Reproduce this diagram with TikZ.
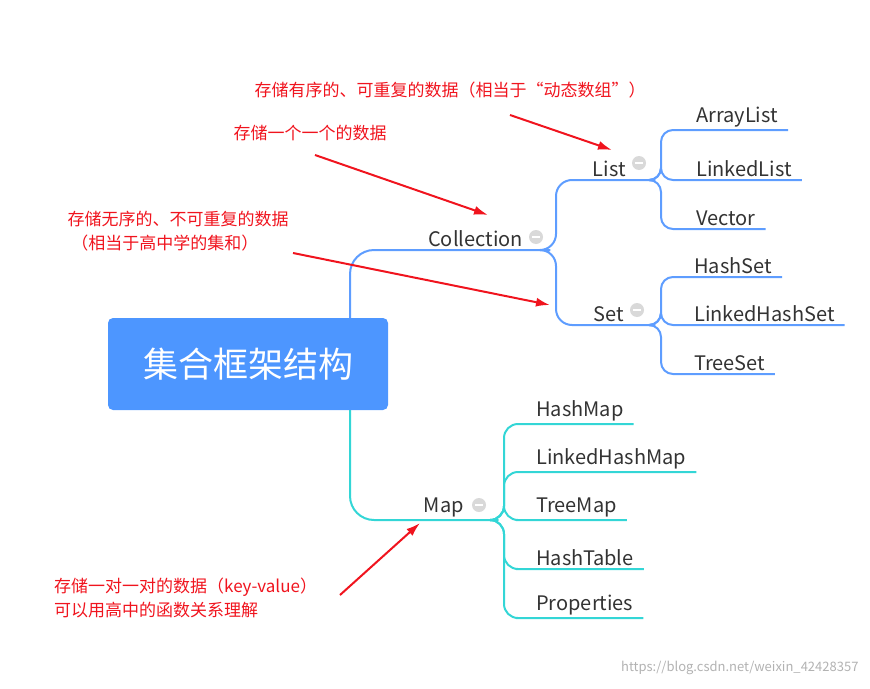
\documentclass[tikz,border=0pt]{standalone}
\usepackage{fontspec}
\setmainfont{Noto Sans CJK SC}
\usetikzlibrary{positioning, calc, arrows.meta}
\definecolor{rootblue}{HTML}{4D96FF}
\definecolor{lineblue}{HTML}{5E9DFF}
\definecolor{lineteal}{HTML}{33D6D6}
\definecolor{notered}{HTML}{F0141E}
\definecolor{txtgray}{HTML}{333333}
\tikzset{
  leaf/.style={anchor=south west, inner xsep=6pt, inner ysep=3pt, font=\fontsize{20}{22}\selectfont, text=txtgray},
  mid/.style={anchor=south east, inner xsep=2pt, inner ysep=3pt, font=\fontsize{20}{22}\selectfont, text=txtgray},
  note/.style={text=notered, font=\fontsize{17}{24}\selectfont, inner sep=1pt},
  arr/.style={-{Latex[length=14pt,width=9pt]}, notered, line width=2pt},
  fold/.style={circle, fill=gray!30, minimum size=14pt, inner sep=0pt, path picture={\draw[white, line width=1.8pt] ([xshift=-4pt]path picture bounding box.center) -- ([xshift=4pt]path picture bounding box.center);}}
}
\begin{document}
\begin{tikzpicture}[x=1pt, y=-1pt]
\useasboundingbox (0,0) rectangle (870,688);
\node (root) [fill=rootblue, rounded corners=5pt, minimum width=280pt, minimum height=92pt, text=white, font=\fontsize{35}{38}\selectfont] at (248,364) {集合框架结构};
% collection side
\coordinate (cEnd) at (550,250);
\coordinate (lHub) at (655,180);
\coordinate (sHub) at (655,325);
\node (coll) [mid] at (525,250) {Collection};
\node (collf) [fold] at (536,237) {};
\node (list) [mid] at (628,180) {List};
\node (listf) [fold] at (639,163) {};
\node (set) [mid] at (626,325) {Set};
\node (setf) [fold] at (637,310) {};
\begin{scope}[lineblue, line width=2pt, rounded corners=24]
  \draw (350,318) |- (cEnd);
\end{scope}
\begin{scope}[lineblue, line width=2pt, rounded corners=16]
  \draw (cEnd) -- ++(6,0) |- (lHub);
  \draw (cEnd) -- ++(6,0) |- (sHub);
\end{scope}
\node (al) [leaf] at (690,130) {ArrayList};
\node (ll) [leaf] at (690,180) {LinkedList};
\node (ve) [leaf] at (690,229) {Vector};
\node (hs) [leaf] at (688,277) {HashSet};
\node (lhs) [leaf] at (688,325) {LinkedHashSet};
\node (ts) [leaf] at (688,374) {TreeSet};
\begin{scope}[lineblue, line width=2pt, rounded corners=12]
  \foreach \n in {al, ll, ve} \draw (lHub) -- ++(6,0) |- (\n.south west) -- ([xshift=4pt]\n.south east);
  \foreach \n in {hs, lhs, ts} \draw (sHub) -- ++(6,0) |- (\n.south west) -- ([xshift=4pt]\n.south east);
\end{scope}
% map side
\coordinate (mHub) at (498,520);
\node (map) [mid] at (466,520) {Map};
\node (mapf) [fold] at (479,505) {};
\node (hm) [leaf] at (530,424) {HashMap};
\node (lhm) [leaf] at (530,472) {LinkedHashMap};
\node (tm) [leaf] at (530,520) {TreeMap};
\node (ht) [leaf] at (530,569) {HashTable};
\node (pr) [leaf] at (530,618) {Properties};
\begin{scope}[lineteal, line width=2pt, rounded corners=24]
  \draw (350,410) |- (mHub);
\end{scope}
\begin{scope}[lineteal, line width=2pt, rounded corners=14]
  \foreach \n in {hm, lhm, tm, ht, pr} \draw (mHub) -- ++(6,0) |- (\n.south west) -- ([xshift=4pt]\n.south east);
\end{scope}
% notes
\node (n1) [note] at (450,90) {存储有序的、可重复的数据（相当于“动态数组”）};
\node (n2) [note] at (310,133) {存储一个一个的数据};
\node (n3) [note, align=left] at (178,231) {存储无序的、不可重复的数据\\\ （相当于高中学的集和）};
\node (n4) [note, align=left, anchor=west] at (53,598) {存储一对一对的数据（key-value）\\可以用高中的函数关系理解};
\coordinate (t1) at (612,150);
\coordinate (t2) at (488,215);
\coordinate (t3) at (550,305);
\coordinate (t4) at (420,523);
\draw [arr] (510,115) -- (t1);
\draw [arr] (315,155) -- (t2);
\draw [arr] (293,253) -- (t3);
\draw [arr] (340,595) -- (t4);
\node (wm) [anchor=east, text=gray!60, font=\fontsize{13}{15}\selectfont] at (862,668) {https://blog.csdn.net/weixin\_42428357};
\end{tikzpicture}
\end{document}
